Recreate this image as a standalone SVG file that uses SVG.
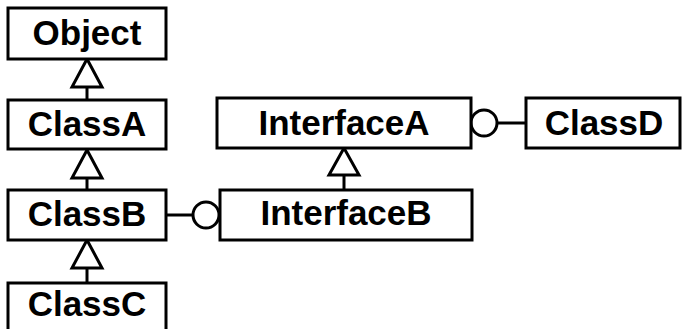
<svg xmlns="http://www.w3.org/2000/svg" width="682" height="329" viewBox="0 0 682 329">
<style>
.box{fill:#fff;stroke:#000;stroke-width:3}
.t{font-family:"Liberation Sans",Arial,sans-serif;font-weight:bold;font-size:35px;text-anchor:middle;fill:#000}
.ln{fill:none;stroke:#000;stroke-width:3}
.tri{fill:#fff;stroke:#000;stroke-width:3;stroke-linejoin:miter}
</style>
<rect width="682" height="329" fill="#fff"/>
<g id="connectors">
<line class="ln" x1="87" y1="87" x2="87" y2="100"/>
<polygon class="tri" points="87,59 72,87 102,87"/>
<line class="ln" x1="87" y1="178" x2="87" y2="190"/>
<polygon class="tri" points="87,150 72,178 102,178"/>
<line class="ln" x1="87" y1="268" x2="87" y2="283"/>
<polygon class="tri" points="87,240 72,268 102,268"/>
<line class="ln" x1="344" y1="175" x2="344" y2="190"/>
<polygon class="tri" points="344,148 329,175 359,175"/>
<line class="ln" x1="167" y1="215" x2="193" y2="215"/>
<circle class="ln" cx="206" cy="215" r="13"/>
<line class="ln" x1="497" y1="123" x2="526" y2="123"/>
<circle class="ln" cx="484" cy="123" r="13"/>
</g>
<g id="Object"><rect class="box" x="8" y="8" width="158" height="51"/><text class="t" x="87" y="45">Object</text></g>
<g id="ClassA"><rect class="box" x="8" y="100" width="158" height="49"/><text class="t" x="87" y="136">ClassA</text></g>
<g id="ClassB"><rect class="box" x="8" y="190" width="158" height="50"/><text class="t" x="87" y="226">ClassB</text></g>
<g id="ClassC"><rect class="box" x="8" y="283" width="158" height="60"/><text class="t" x="87" y="316">ClassC</text></g>
<g id="InterfaceA"><rect class="box" x="217" y="98" width="254" height="50"/><text class="t" x="344" y="135">InterfaceA</text></g>
<g id="InterfaceB"><rect class="box" x="220" y="190" width="252" height="50"/><text class="t" x="346" y="225">InterfaceB</text></g>
<g id="ClassD"><rect class="box" x="526" y="98" width="154" height="50"/><text class="t" x="604" y="135">ClassD</text></g>
</svg>
